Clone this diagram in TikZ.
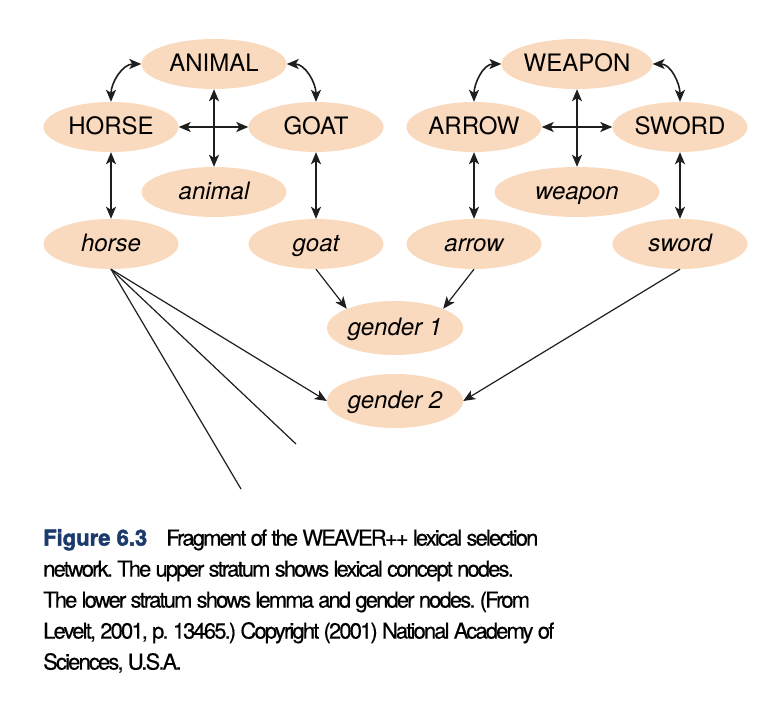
\documentclass[tikz,border=0pt]{standalone}
\usepackage{fontspec}
\setmainfont{TeX Gyre Heros}
\newfontfamily\capfont[LetterSpace=-8.5, FakeBold=0.4]{TeX Gyre Heros}
\usetikzlibrary{shapes.geometric, arrows.meta}
\definecolor{peach}{RGB}{250,218,190}
\definecolor{figblue}{RGB}{28,58,108}
\definecolor{ink}{RGB}{30,30,30}

\begin{document}
\begin{tikzpicture}[
    x=1pt, y=-1pt,
    every node/.style={font=\fontsize{24}{28}\selectfont},
    concept/.style={ellipse, fill=peach, inner sep=0pt, minimum width=#1,
                    minimum height=50pt, text height=21pt, text depth=5pt},
    concept/.default=135pt,
    lemma/.style={concept=#1, font=\fontsize{24}{28}\selectfont\itshape},
    lemma/.default=135pt,
    link/.style={{Stealth[length=12pt, width=10pt, inset=3pt]}-{Stealth[length=12pt, width=10pt, inset=3pt]},
                 line width=1.6pt, ink},
    arrow/.style={-{Stealth[length=12pt, width=10pt, inset=3pt]}, line width=1.2pt, ink},
    plain/.style={line width=1.2pt, ink}
]
\useasboundingbox (0,0) rectangle (772,714);

% Left cluster: concept nodes
\node[concept=145pt] (ANIMAL) at (214, 64) {ANIMAL};
\node[concept] (HORSE) at (111, 127) {HORSE};
\node[concept] (GOAT) at (316, 127) {GOAT};

% Left cluster: lemma nodes
\node[lemma=145pt] (animal) at (214, 192) {animal};
\node[lemma] (horse) at (111, 244) {horse};
\node[lemma] (goat) at (316, 244) {goat};

% Right cluster: concept nodes
\node[concept=145pt] (WEAPON) at (577, 64) {WEAPON};
\node[concept] (ARROW) at (474, 127) {ARROW};
\node[concept] (SWORD) at (680, 127) {SWORD};

% Right cluster: lemma nodes
\node[lemma=165pt] (weapon) at (577, 192) {weapon};
\node[lemma] (arrow) at (474, 244) {arrow};
\node[lemma] (sword) at (680, 244) {sword};

% Gender nodes
\node[lemma=136pt, minimum height=54pt] (gender1) at (395, 328) {gender 1};
\node[lemma=136pt, minimum height=54pt] (gender2) at (395, 401) {gender 2};

% Left links
\draw[link] (HORSE.north) to[out=90, in=180] (ANIMAL.west);
\draw[link] (ANIMAL.east) to[out=0, in=90] (GOAT.north);
\draw[link] (HORSE.east) -- (GOAT.west);
\draw[link] (ANIMAL.south) -- (animal.north);
\draw[link] (HORSE.south) -- (horse.north);
\draw[link] (GOAT.south) -- (goat.north);

% Right links
\draw[link] (ARROW.north) to[out=90, in=180] (WEAPON.west);
\draw[link] (WEAPON.east) to[out=0, in=90] (SWORD.north);
\draw[link] (ARROW.east) -- (SWORD.west);
\draw[link] (WEAPON.south) -- (weapon.north);
\draw[link] (ARROW.south) -- (arrow.north);
\draw[link] (SWORD.south) -- (sword.north);

% Lemma to gender
\draw[arrow] (goat.south) -- (gender1.north west);
\draw[arrow] (arrow.south) -- (gender1.north east);
\draw[arrow] (sword.south) -- (gender2.east);
\draw[arrow] (horse.south) -- (gender2.west);

% Loose ends from horse
\coordinate (endA) at (296, 444);
\coordinate (endB) at (241, 489);
\draw[plain] (horse.south) -- (endA);
\draw[plain] (horse.south) -- (endB);

% Caption
\node[anchor=north west, inner sep=0pt, align=left,
      font=\capfont\fontsize{22}{31}\selectfont\frenchspacing] (caption) at (43, 529)
    {{\color{figblue}\fontspec{TeX Gyre Heros}[FakeBold=2]\bfseries Figure 6.3}\hspace{19pt}Fragment of the WEAVER++ lexical selection\\
     network. The upper stratum shows lexical concept nodes.\\
     The lower stratum shows lemma and gender nodes. (From\\
     Levelt, 2001, p. 13465.) Copyright (2001) National Academy of\\
     Sciences, U.S.A.};

\end{tikzpicture}
\end{document}
